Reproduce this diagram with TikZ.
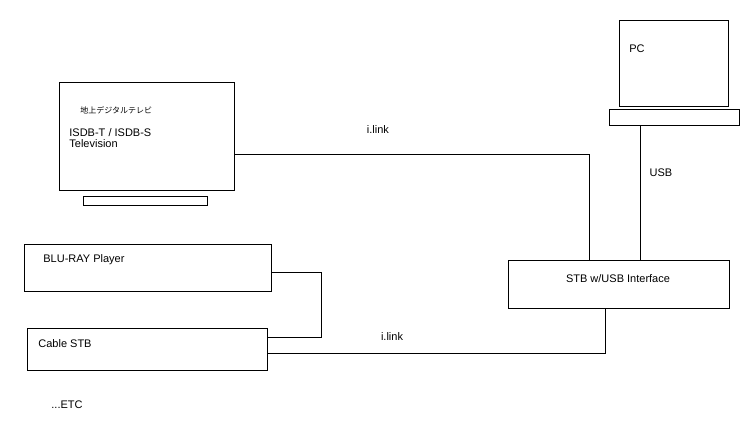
\documentclass[tikz,border=0pt]{standalone}
\usepackage{fontspec}
\setmainfont{Liberation Sans}
\newfontfamily\jpfont{Noto Sans CJK JP}
\usepackage{tikz}
\usetikzlibrary{positioning}

\begin{document}
\begin{tikzpicture}[x=1pt,y=-1pt,line width=0.8pt,
  box/.style={draw,rectangle,inner sep=0pt},
  lbl/.style={inner sep=0pt,font=\fontsize{11}{11}\selectfont}]
\useasboundingbox (0,0) rectangle (748,435);
% devices
\node[box,minimum width=175,minimum height=108] (tv) at (146.5,136) {};
\node[box,minimum width=124,minimum height=9] (stand) at (145,200.5) {};
\node[box,minimum width=109,minimum height=86] (pc) at (673.5,63) {};
\node[box,minimum width=130,minimum height=16] (pcbase) at (674,117) {};
\node[box,minimum width=221,minimum height=48] (stb) at (618.5,284) {};
\node[box,minimum width=247,minimum height=47] (bluray) at (147.5,267.5) {};
\node[box,minimum width=240,minimum height=42] (cable) at (147,349) {};
% texts
\node[lbl,anchor=west,font=\jpfont\fontsize{8}{8}\selectfont] (tvjp) at (80,110) {地上デジタルテレビ};
\node[lbl,anchor=west,align=left] (tvname) at (69,138) {ISDB-T / ISDB-S\\Television};
\node[lbl,anchor=west] (pcname) at (629,49) {PC};
\node[lbl] (stbname) at (618,279) {STB w/USB Interface};
\node[lbl,anchor=west] (brname) at (43,260) {BLU-RAY Player};
\node[lbl,anchor=west] (cbname) at (38,344) {Cable STB};
\node[lbl,anchor=west] (etc) at (51,405) {...ETC};
% bends
\coordinate (tvbend) at (589,154);
\coordinate (usbx) at (640,0);
\coordinate (brbend) at (321,272);
\coordinate (cbbend) at (605,353);
% links
\draw (tv.east |- tvbend) -- (tvbend) -- (tvbend |- stb.north);
\draw (usbx |- pcbase.south) -- (usbx |- stb.north);
\draw (bluray.east |- brbend) -- (brbend) -- (brbend |- 0,337) -- (cable.east |- 0,337);
\draw (cable.east |- cbbend) -- (cbbend) -- (cbbend |- stb.south);
\node[lbl] (ilink1) at (378,130) {i.link};
\node[lbl] (usb) at (661,173) {USB};
\node[lbl] (ilink2) at (392,337) {i.link};
\end{tikzpicture}
\end{document}
